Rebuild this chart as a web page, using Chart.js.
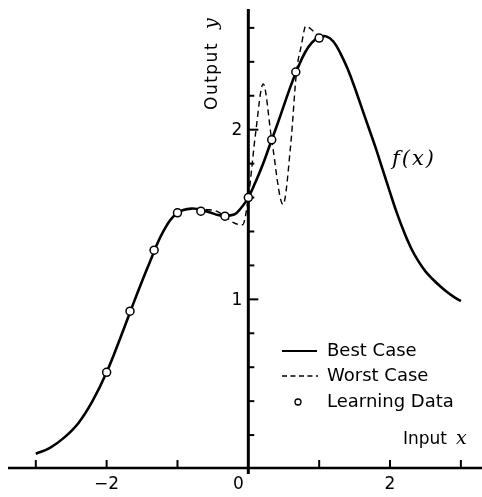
<!DOCTYPE html>
<html>
<head>
<meta charset="utf-8">
<script src="https://cdn.jsdelivr.net/npm/chart.js@4"></script>
<style>
  html, body { margin: 0; padding: 0; background: #fff; }
  #box { width: 482px; height: 497px; }
</style>
</head>
<body>
<div id="box"><canvas id="grafico" width="482" height="497"></canvas></div>
<script>
// curva "Best Case" (linea continua)
const bestX = [-3.0, -2.8, -2.6, -2.4, -2.2, -2.0, -1.8, -1.6, -1.4, -1.2, -1.0, -0.8, -0.6, -0.4, -0.2, -0.1, 0.0,
  0.1, 0.2, 0.3, 0.4, 0.5, 0.6, 0.7, 0.8, 0.9, 1.0, 1.1, 1.2, 1.3, 1.4, 1.5, 1.6, 1.7, 1.8, 1.9,
  2.0, 2.1, 2.2, 2.3, 2.4, 2.5, 2.6, 2.7, 2.8, 2.9, 3.0];
const bestY = [0.09, 0.125, 0.185, 0.27, 0.40, 0.57, 0.78, 1.00, 1.21, 1.40, 1.51, 1.535, 1.52, 1.495, 1.50, 1.54, 1.60,
  1.69, 1.79, 1.905, 2.02, 2.14, 2.26, 2.365, 2.455, 2.515, 2.545, 2.55, 2.52, 2.45, 2.36, 2.25, 2.13, 2.01, 1.89, 1.76,
  1.63, 1.505, 1.395, 1.30, 1.225, 1.165, 1.12, 1.08, 1.045, 1.015, 0.99];

// curva "Worst Case" (tratteggiata), solo dove si stacca dalla continua
const worstX = [-0.6, -0.45, -0.33, -0.2, -0.08, 0.0, 0.1, 0.21, 0.33, 0.49, 0.6, 0.68, 0.75, 0.81, 0.92, 1.0];
const worstY = [1.53, 1.52, 1.49, 1.45, 1.44, 1.60, 1.97, 2.27, 1.94, 1.56, 1.92, 2.34, 2.50, 2.61, 2.58, 2.545];

// punti di apprendimento
const learnX = [-2.0, -1.67, -1.33, -1.0, -0.67, -0.33, 0.0, 0.33, 0.67, 1.0];
const learnY = [0.57, 0.93, 1.29, 1.51, 1.52, 1.49, 1.60, 1.94, 2.34, 2.54];

// tacche e etichette degli assi
const xTicks = [-3, -2, -1, 1, 2, 3];
const xTickLabels = [-2, 0, 2];
const yTicks = [0.2, 0.4, 0.6, 0.8, 1.0, 1.2, 1.4, 1.6, 1.8, 2.0, 2.2, 2.4, 2.6];
const yTickLabels = [1, 2];

const sans = "'DejaVu Sans', sans-serif";
const serif = "'DejaVu Serif', 'Liberation Serif', serif";

function punti(xs, ys) {
  return xs.map((x, i) => ({ x: x, y: ys[i] }));
}

// disegna assi, testi e legenda a mano
const assiPlugin = {
  id: "assi",
  beforeDatasetsDraw(chart) {
    const ctx = chart.ctx;
    const sx = chart.scales.x;
    const sy = chart.scales.y;
    const x0 = sx.getPixelForValue(0);
    const y0 = sy.getPixelForValue(0) - 1;
    ctx.save();
    ctx.strokeStyle = "#000";
    ctx.lineCap = "butt";

    // asse x
    ctx.lineWidth = 2.5;
    ctx.beginPath();
    ctx.moveTo(8, y0);
    ctx.lineTo(chart.width, y0);
    ctx.stroke();
    ctx.lineWidth = 2;
    xTicks.forEach((t) => {
      const px = sx.getPixelForValue(t);
      ctx.beginPath();
      ctx.moveTo(px, y0);
      ctx.lineTo(px, y0 - 8);
      ctx.stroke();
    });

    // asse y
    ctx.lineWidth = 3;
    ctx.beginPath();
    ctx.moveTo(x0, y0 + 6);
    ctx.lineTo(x0, 9);
    ctx.stroke();
    ctx.lineWidth = 2;
    yTicks.forEach((t) => {
      const py = sy.getPixelForValue(t);
      const lungo = yTickLabels.includes(Math.round(t * 10) / 10);
      ctx.beginPath();
      ctx.moveTo(x0, py);
      ctx.lineTo(x0 + (lungo ? 10 : 6), py);
      ctx.stroke();
    });

    // etichette
    ctx.fillStyle = "#000";
    ctx.font = "17px " + sans;
    ctx.textBaseline = "middle";
    ctx.textAlign = "center";
    xTickLabels.forEach((t) => {
      let px = sx.getPixelForValue(t);
      if (t === 0) px -= 10;
      const testo = t < 0 ? "\u2212" + Math.abs(t) : String(t);
      ctx.fillText(testo, px, y0 + 17);
    });
    ctx.textAlign = "right";
    yTickLabels.forEach((t) => {
      ctx.fillText(String(t), x0 - 6, sy.getPixelForValue(t) + 1);
    });

    // titolo asse x
    ctx.textAlign = "left";
    ctx.font = "17px " + sans;
    ctx.fillText("Input", 403, y0 - 28);
    ctx.font = "italic 19px " + serif;
    ctx.fillText("x", 456, y0 - 29);

    // titolo asse y (ruotato)
    ctx.save();
    ctx.translate(213, 110);
    ctx.rotate(-Math.PI / 2);
    ctx.font = "17px " + sans;
    ctx.textAlign = "left";
    ctx.letterSpacing = "1.5px";
    ctx.fillText("Output", 0, 0);
    ctx.letterSpacing = "0px";
    ctx.font = "italic 19px " + serif;
    ctx.fillText("y", 81, -1);
    ctx.restore();

    // etichetta f(x)
    ctx.font = "italic 21px " + serif;
    ctx.textAlign = "left";
    ctx.letterSpacing = "2px";
    ctx.fillText("f(x)", 392, 160);
    ctx.letterSpacing = "0px";
    ctx.restore();
  },
  afterDraw(chart) {
    const ctx = chart.ctx;
    ctx.save();
    ctx.strokeStyle = "#000";
    ctx.fillStyle = "#000";
    // legenda
    ctx.lineWidth = 2;
    ctx.beginPath();
    ctx.moveTo(282, 351);
    ctx.lineTo(317, 351);
    ctx.stroke();
    ctx.lineWidth = 1.3;
    ctx.setLineDash([5, 3.5]);
    ctx.beginPath();
    ctx.moveTo(282, 376);
    ctx.lineTo(318, 376);
    ctx.stroke();
    ctx.setLineDash([]);
    ctx.lineWidth = 1.3;
    ctx.beginPath();
    ctx.arc(298, 402, 3, 0, Math.PI * 2);
    ctx.fillStyle = "#fff";
    ctx.fill();
    ctx.stroke();
    ctx.fillStyle = "#000";
    ctx.font = "18px " + sans;
    ctx.textAlign = "left";
    ctx.textBaseline = "middle";
    ctx.fillText("Best Case", 327, 351);
    ctx.fillText("Worst Case", 327, 376);
    ctx.fillText("Learning Data", 327, 402);
    ctx.restore();
  },
};

const ctx = document.getElementById("grafico").getContext("2d");
const grafico = new Chart(ctx, {
  type: "scatter",
  data: {
    datasets: [
      {
        label: "Learning Data",
        data: punti(learnX, learnY),
        order: 0,
        pointRadius: 4,
        pointBorderWidth: 1.5,
        pointBackgroundColor: "#fff",
        pointBorderColor: "#000",
        showLine: false,
      },
      {
        label: "Best Case",
        data: punti(bestX, bestY),
        order: 1,
        showLine: true,
        borderColor: "#000",
        borderWidth: 2.6,
        pointRadius: 0,
        tension: 0.4,
      },
      {
        label: "Worst Case",
        data: punti(worstX, worstY),
        order: 2,
        showLine: true,
        borderColor: "#000",
        borderWidth: 1.4,
        borderDash: [6, 4],
        pointRadius: 0,
        cubicInterpolationMode: "monotone",
      },
    ],
  },
  options: {
    responsive: false,
    devicePixelRatio: 1,
    animation: false,
    layout: { padding: 0 },
    plugins: { legend: { display: false }, tooltip: { enabled: false } },
    scales: {
      x: { type: "linear", display: false, min: -248.5 / 72.5, max: (482 - 248.5) / 72.5 },
      y: { type: "linear", display: false, min: -23 / 173.5, max: 474 / 173.5 },
    },
  },
  plugins: [assiPlugin],
});
</script>
</body>
</html>
